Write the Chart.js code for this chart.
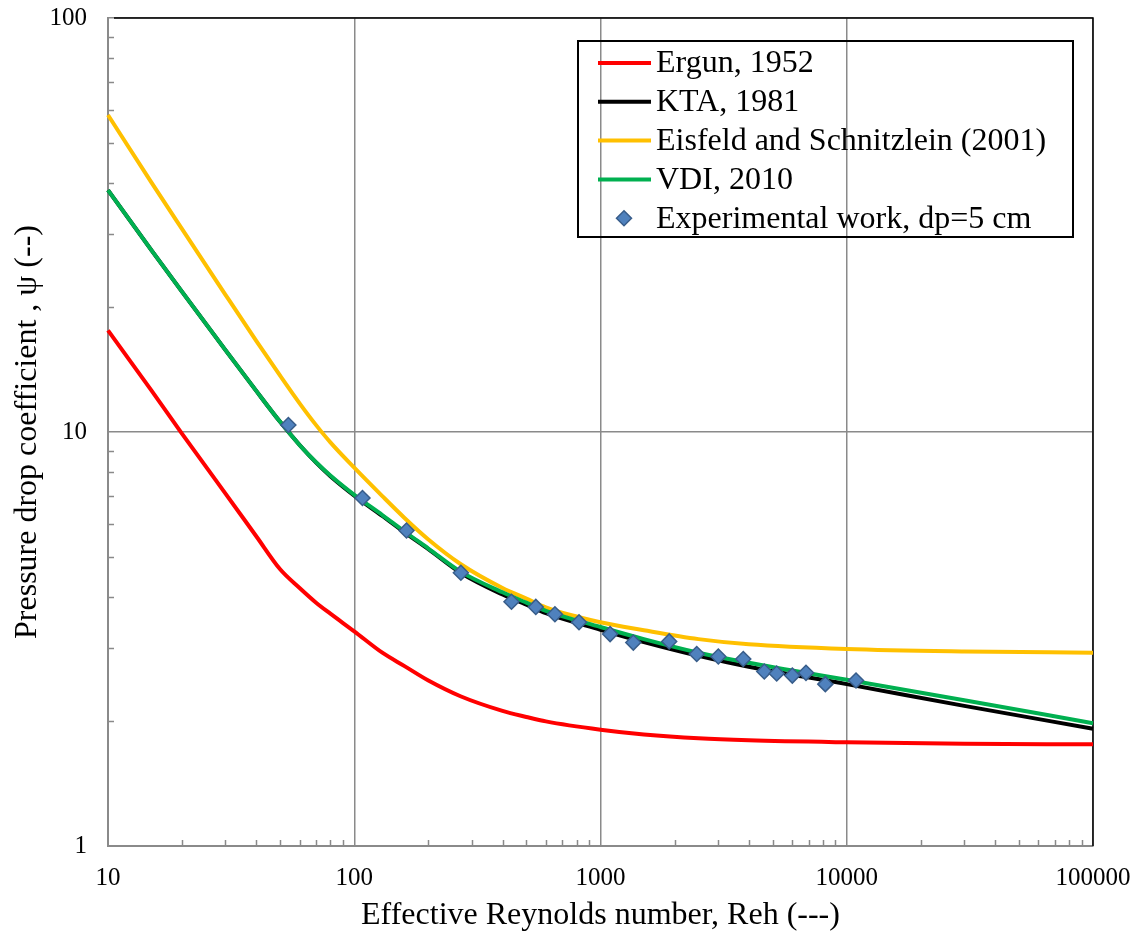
<!DOCTYPE html>
<html><head><meta charset="utf-8">
<script src="https://cdn.jsdelivr.net/npm/chart.js@4.4.1/dist/chart.umd.min.js"></script>
<style>html,body{margin:0;padding:0;background:#fff}</style>
</head><body>
<canvas id="c" width="1145" height="943"></canvas>
<script>
// ---- data ----
const reGrid = [10,15,20,30,40,50,60,70,80,100,130,160,200,270,400,500,600,1000,1500,2500,4000,10000,30000,100000];
const psiErgun = [17.6,12.6,9.9,7.1,5.6,4.66,4.2,3.87,3.64,3.3,2.93,2.72,2.51,2.3,2.12,2.05,2.0,1.91,1.86,1.82,1.8,1.78,1.765,1.76];
const psiKTA = [38.4,27.5,21.8,15.77,12.57,10.58,9.3,8.43,7.82,7.02,6.27,5.72,5.21,4.57,4.05,3.83,3.65,3.33,3.11,2.88,2.71,2.46,2.18,1.92];
const psiEisfeld = [58.3,40.1,30.9,21.45,16.6,13.68,11.73,10.39,9.44,8.2,7.0,6.2,5.5,4.8,4.2,3.96,3.77,3.47,3.32,3.16,3.07,2.99,2.95,2.93];
const psiVDI = [38.4,27.5,21.8,15.77,12.57,10.58,9.3,8.45,7.85,7.05,6.3,5.75,5.23,4.6,4.1,3.87,3.70,3.38,3.16,2.93,2.77,2.52,2.25,1.98];
const reExp = [54,108,163,271,435,546,653,818,1094,1359,1901,2459,3009,3800,4625,5194,6010,6831,8185,10904];
const psiExp = [10.4,6.93,5.78,4.57,3.89,3.78,3.63,3.47,3.25,3.10,3.12,2.91,2.87,2.83,2.64,2.61,2.58,2.62,2.46,2.51];
const seriesLabels = ['Ergun, 1952','KTA, 1981','Eisfeld and Schnitzlein (2001)','VDI, 2010','Experimental work, dp=5 cm'];
const xTickValues = [10,100,1000,10000,100000];
const xTickLabels = ['10','100','1000','10000','100000'];
const yTickValues = [1,10,100];
const yTickLabels = ['1','10','100'];
const xTitle = 'Effective Reynolds number, Reh (---)';
const yTitle = 'Pressure drop coefficient , \u03C8 (--)';

const FONT = "'Liberation Serif','Times New Roman',serif";
const GRID = '#8a8a8a';
const LW = 4;
function pts(xs, ys){ return xs.map((x,i)=>({x:x, y:ys[i]})); }
function lineDs(label, ys, color, order){
  return {label:label, data:pts(reGrid, ys), showLine:true, borderColor:color, backgroundColor:color,
    borderWidth:LW, pointRadius:0, pointHoverRadius:0, cubicInterpolationMode:'monotone', order:order, clip:false};
}
function zeroPad(s){ s.paddingTop = 0; s.paddingBottom = 0; s.paddingLeft = 0; s.paddingRight = 0; }

const frame = {
  id:'frame',
  beforeDatasetsDraw(chart){
    const {ctx, chartArea:a, scales:{x, y}} = chart;
    ctx.save();
    ctx.strokeStyle = GRID; ctx.lineWidth = 1.5;
    ctx.beginPath();
    for (let d = 10; d < 100000; d *= 10){
      for (let m = 2; m <= 9; m++){
        const px = Math.round(x.getPixelForValue(m*d)) + 0.5;
        ctx.moveTo(px, a.bottom); ctx.lineTo(px, a.bottom - 6);
      }
    }
    for (let d = 1; d < 100; d *= 10){
      for (let m = 2; m <= 9; m++){
        const py = Math.round(y.getPixelForValue(m*d)) + 0.5;
        ctx.moveTo(a.left, py); ctx.lineTo(a.left + 6, py);
      }
    }
    ctx.stroke();
    ctx.strokeStyle = '#000'; ctx.lineWidth = 1.5;
    ctx.beginPath();
    ctx.moveTo(a.left + 6, a.top); ctx.lineTo(a.right, a.top); ctx.lineTo(a.right, a.bottom);
    ctx.stroke();
    ctx.restore();
  }
};

const legendBox = {
  id:'legendBox',
  afterDraw(chart){
    const {ctx, chartArea:a} = chart;
    const right = a.right - 20, top = a.top + 23, w = 495, h = 196;
    const left = right - w;
    ctx.save();
    ctx.strokeStyle = '#000'; ctx.lineWidth = 2;
    ctx.strokeRect(left, top, w, h);
    ctx.font = '32px ' + FONT; ctx.fillStyle = '#000'; ctx.textBaseline = 'middle'; ctx.textAlign = 'left';
    chart.data.datasets.forEach((ds, i) => {
      const cy = top + 22 + i*38.8;
      if (ds.showLine){
        ctx.strokeStyle = ds.borderColor; ctx.lineWidth = LW;
        ctx.beginPath(); ctx.moveTo(left + 20, cy); ctx.lineTo(left + 73, cy); ctx.stroke();
      } else {
        const cx = left + 46, r = ds.pointRadius;
        ctx.fillStyle = ds.backgroundColor; ctx.strokeStyle = ds.borderColor; ctx.lineWidth = ds.borderWidth;
        ctx.beginPath(); ctx.moveTo(cx, cy - r); ctx.lineTo(cx + r, cy); ctx.lineTo(cx, cy + r); ctx.lineTo(cx - r, cy); ctx.closePath();
        ctx.fill(); ctx.stroke();
        ctx.fillStyle = '#000';
      }
      ctx.fillText(ds.label, left + 78, cy + 1);
    });
    ctx.restore();
  }
};

new Chart(document.getElementById('c').getContext('2d'), {
  type:'scatter',
  data:{datasets:[
    lineDs(seriesLabels[0], psiErgun, '#FF0000', 5),
    lineDs(seriesLabels[1], psiKTA, '#000000', 4),
    lineDs(seriesLabels[2], psiEisfeld, '#FFC000', 3),
    lineDs(seriesLabels[3], psiVDI, '#00B050', 2),
    {label:seriesLabels[4], data:pts(reExp, psiExp), showLine:false, pointStyle:'rectRot', pointRadius:7.5,
     backgroundColor:'#4F81BD', borderColor:'#385D8A', borderWidth:1.5, order:1}
  ]},
  options:{
    responsive:false, animation:false, events:[],
    layout:{padding:{left:0, right:52, top:18, bottom:0}},
    plugins:{legend:{display:false}, tooltip:{enabled:false}},
    scales:{
      x:{type:'logarithmic', min:10, max:100000,
        afterBuildTicks:s=>{ s.ticks = xTickValues.map(v=>({value:v})); },
        afterFit:s=>{ s.height = 97; zeroPad(s); },
        ticks:{callback:(v,i)=>xTickLabels[i], font:{family:FONT, size:25}, color:'#000', padding:17, maxRotation:0, autoSkip:false},
        grid:{color:GRID, lineWidth:1.5, drawTicks:false},
        border:{color:GRID, width:2},
        title:{display:true, text:xTitle, font:{family:FONT, size:32}, color:'#000', padding:{top:0, bottom:8}}
      },
      y:{type:'logarithmic', min:1, max:100,
        afterBuildTicks:s=>{ s.ticks = yTickValues.map(v=>({value:v})); },
        afterFit:s=>{ s.width = 108; zeroPad(s); },
        ticks:{callback:(v,i)=>yTickLabels[i], font:{family:FONT, size:25}, color:'#000', padding:21, autoSkip:false},
        grid:{color:GRID, lineWidth:1.5, drawTicks:false},
        border:{color:GRID, width:2},
        title:{display:true, text:yTitle, font:{family:FONT, size:32}, color:'#000', padding:{top:8, bottom:0}}
      }
    }
  },
  plugins:[frame, legendBox]
});
</script>
</body></html>
